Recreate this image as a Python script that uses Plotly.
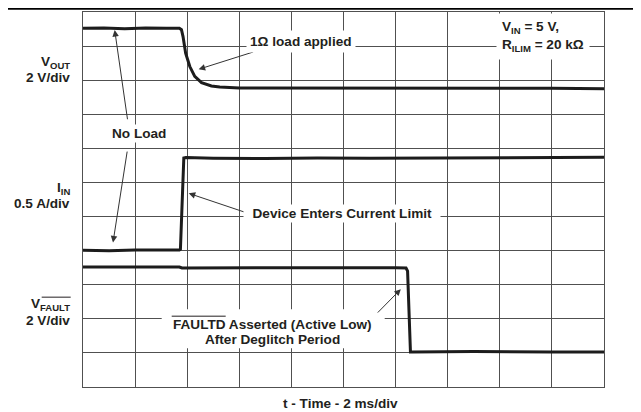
import plotly.graph_objects as go

# ---- data (time in ms, amplitude in screen divisions) ----
t_vout = [0, 0.8, 1.6, 2.4, 3.2, 3.70, 3.78, 3.84, 3.94, 4.10, 4.29, 4.55, 4.93, 5.25,
          6.0, 8.0, 10.0, 12.0, 14.0, 16.0, 18.0, 20.0]
v_vout = [10.52, 10.53, 10.51, 10.53, 10.52, 10.52, 10.48, 10.28, 9.79, 9.40, 9.11, 8.93,
          8.83, 8.80, 8.77, 8.77, 8.76, 8.77, 8.76, 8.78, 8.76, 8.75]

t_iin = [0, 1.0, 2.0, 3.0, 3.70, 3.74, 3.80, 3.87, 3.95, 5.0, 7.0, 9.0, 11.0, 13.0,
         15.0, 17.0, 19.0, 20.0]
v_iin = [4.01, 4.00, 4.02, 4.01, 4.02, 4.04, 5.40, 6.72, 6.73, 6.71, 6.70, 6.72, 6.71,
         6.72, 6.73, 6.72, 6.74, 6.74]

t_vfault = [0, 2.0, 3.70, 3.80, 6.0, 9.0, 12.0, 12.40, 12.46, 12.50, 12.57, 12.65,
            15.0, 18.0, 20.0]
v_vfault = [3.52, 3.53, 3.52, 3.49, 3.50, 3.50, 3.50, 3.49, 3.40, 2.30, 1.03, 1.03,
            1.04, 1.03, 1.03]

x_divs = 10
y_divs = 11
ms_per_div = 2

TRACE = "#1c1c1c"
GRID = "#505050"
TXT = "#231f20"
FONT = "Liberation Sans, Arial, sans-serif"
FS = 13.6

# page has an 8px body margin -> figure is 633x404 and placed at (8, 8)
PW, PH = 521.0, 374.4          # plot area size in px
PX0, PY1 = 83.3, 386.7         # plot area left / bottom in page px

def px2paper_x(px):
    return (px - PX0) / PW

def py2paper_y(py):
    return (PY1 - py) / PH

fig = go.Figure()
for tt, vv in [(t_vout, v_vout), (t_iin, v_iin), (t_vfault, v_vfault)]:
    fig.add_trace(go.Scatter(x=tt, y=vv, mode="lines",
                             line=dict(color=TRACE, width=3), hoverinfo="skip",
                             showlegend=False))

fig.update_layout(
    width=633, height=404,
    margin=dict(l=75, r=37, t=4, b=25, pad=0),
    paper_bgcolor="white", plot_bgcolor="white",
    font=dict(family=FONT, size=FS, color=TXT),
    xaxis=dict(range=[0, x_divs * ms_per_div], dtick=ms_per_div, showgrid=True,
               gridcolor=GRID, gridwidth=1, showticklabels=False, ticks="",
               zeroline=False, showline=True, linecolor=GRID, linewidth=1, mirror=True),
    yaxis=dict(range=[0, y_divs], dtick=1, showgrid=True, gridcolor=GRID, gridwidth=1,
               showticklabels=False, ticks="", zeroline=False, showline=True,
               linecolor=GRID, linewidth=1, mirror=True),
)

# top rule (as high as the figure allows)
fig.add_shape(type="line", xref="paper", yref="paper", x0=px2paper_x(0), x1=px2paper_x(641),
              y0=py2paper_y(9), y1=py2paper_y(9), line=dict(color="black", width=2))

# white box behind the FAULTD note, then its overline
fig.add_shape(type="rect", xref="paper", yref="paper",
              x0=px2paper_x(162), x1=px2paper_x(385), y0=py2paper_y(348), y1=py2paper_y(309),
              fillcolor="white", line=dict(width=0), layer="above")
fig.add_shape(type="line", xref="paper", yref="paper",
              x0=px2paper_x(172), x1=px2paper_x(226), y0=py2paper_y(316), y1=py2paper_y(316),
              line=dict(color=TXT, width=1), layer="above")
# overline on FAULT subscript
fig.add_shape(type="line", xref="paper", yref="paper",
              x0=px2paper_x(42), x1=px2paper_x(71), y0=py2paper_y(297), y1=py2paper_y(297),
              line=dict(color=TXT, width=1))

# arrows (tail -> tip) in data coords
arrows = [
    ((1.716, 7.81), (1.217, 10.47)),
    ((1.704, 6.95), (1.152, 4.24)),
    ((6.59, 9.84), (4.44, 9.32)),
    ((6.28, 5.11), (4.06, 5.68)),
    ((11.26, 2.14), (12.20, 2.87)),
]
for (ax_, ay_), (x_, y_) in arrows:
    fig.add_annotation(x=x_, y=y_, ax=ax_, ay=ay_, xref="x", yref="y", axref="x",
                       ayref="y", text="", showarrow=True, arrowhead=2, arrowsize=1.3,
                       arrowwidth=1, arrowcolor="#333333")

def note(x, y, text, xanchor="center", pad=2, bg="white", align="center"):
    fig.add_annotation(x=x, y=y, xref="x", yref="y", text=text, showarrow=False,
                       xanchor=xanchor, yanchor="middle", bgcolor=bg, borderpad=pad,
                       align=align, font=dict(family=FONT, size=FS, color=TXT))

note(8.38, 10.14, "<b>1Ω load applied</b>", pad=3)
note(2.15, 7.44, "<b>No Load</b>", pad=1)
note(6.16, 5.09, "<b>\u00a0\u00a0Device Enters Current Limit\u00a0\u00a0</b>", xanchor="left", pad=1)
note(7.28, 1.84, "<b>FAULTD Asserted (Active Low)</b>", pad=0, bg="rgba(0,0,0,0)")
note(7.28, 1.40, "<b>After Deglitch Period</b>", pad=0, bg="rgba(0,0,0,0)")
note(17.65, 10.27, "<b>V<sub>IN</sub> = 5 V,<br>R<sub>ILIM</sub> = 20 kΩ</b>",
     pad=5, align="left")

# left channel labels
lx = px2paper_x(72)
for y_, txt in [(9.51, "<b>V<sub>OUT</sub></b>"), (9.08, "<b>2 V/div</b>"),
                (5.81, "<b>I<sub>IN</sub></b>"), (5.39, "<b>0.5 A/div</b>"),
                (2.43, "<b>V<sub>FAULT</sub></b>"), (1.96, "<b>2 V/div</b>")]:
    fig.add_annotation(x=lx, y=y_, xref="paper", yref="y", text=txt, showarrow=False,
                       xanchor="right", yanchor="middle",
                       font=dict(family=FONT, size=FS, color=TXT))

# x-axis title
fig.add_annotation(x=px2paper_x(341), y=py2paper_y(403), xref="paper", yref="paper",
                   text="<b>t - Time - 2 ms/div</b>", showarrow=False,
                   xanchor="center", yanchor="middle",
                   font=dict(family=FONT, size=FS, color=TXT))

fig.write_html("out.html")
